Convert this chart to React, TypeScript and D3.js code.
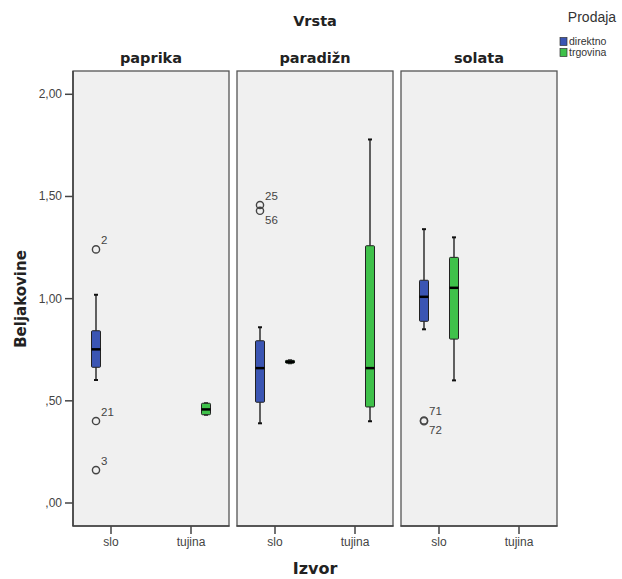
import React from "react";
import * as d3 from "d3";

// ---- data ----
const panels = ["paprika", "paradižn", "solata"];
const sources = ["slo", "tujina"];
const saleTypes = ["direktno", "trgovina"];
const yTicks = [0, 0.5, 1.0, 1.5, 2.0];
const yTickLabels = [",00", ",50", "1,00", "1,50", "2,00"];

// boxes
const boxPanel = ["paprika", "paprika", "paradižn", "paradižn", "paradižn", "solata", "solata"];
const boxSource = ["slo", "tujina", "slo", "slo", "tujina", "slo", "slo"];
const boxSale = ["direktno", "trgovina", "direktno", "trgovina", "trgovina", "direktno", "trgovina"];
const boxMin = [0.602, 0.432, 0.39, 0.684, 0.4, 0.85, 0.6];
const boxQ1 = [0.664, 0.432, 0.493, 0.684, 0.47, 0.889, 0.802];
const boxMed = [0.752, 0.458, 0.66, 0.691, 0.66, 1.009, 1.053];
const boxQ3 = [0.843, 0.488, 0.794, 0.698, 1.259, 1.09, 1.202];
const boxMax = [1.019, 0.488, 0.86, 0.698, 1.779, 1.34, 1.3];

// outliers
const outPanel = ["paprika", "paprika", "paprika", "paradižn", "paradižn", "solata", "solata"];
const outSource = ["slo", "slo", "slo", "slo", "slo", "slo", "slo"];
const outSale = ["direktno", "direktno", "direktno", "direktno", "direktno", "direktno", "direktno"];
const outValue = [1.241, 0.401, 0.161, 1.458, 1.43, 0.404, 0.4];
const outLabel = ["2", "21", "3", "25", "56", "71", "72"];
const outLabelBelow = [false, false, false, false, true, false, true];

const saleColors = ["#3b55b3", "#3fc14a"];

export default function App() {
  const W = 622;
  const H = 579;
  const panelTop = 71;
  const panelBottom = 526;

  const xPanel = d3.scaleBand<string>().domain(panels).range([73, 557]).paddingInner(8 / 164).paddingOuter(0);
  const bw = xPanel.bandwidth();
  const xSource = d3.scalePoint<string>().domain(sources).range([38, bw - 38]);
  const xSale = d3.scalePoint<string>().domain(saleTypes).range([-15, 15]);
  const color = d3.scaleOrdinal<string, string>().domain(saleTypes).range(saleColors);
  const y = d3.scaleLinear().domain([0, 2]).range([503, 94.3]);

  const boxW = 9;
  const capW = 4;
  const cx = (p: string, s: string, t: string) => (xPanel(p) as number) + (xSource(s) as number) + (xSale(t) as number);

  const boldFont = "'DejaVu Sans', Verdana, sans-serif";
  const font = "'Liberation Sans', Arial, sans-serif";

  return (
    <svg width={W} height={H} style={{ position: "absolute", left: 0, top: 0, background: "#fff" }}>
      {/* titles */}
      <text x={315} y={26} textAnchor="middle" fontFamily={boldFont} fontWeight="bold" fontSize={14.5} fill="#222">Vrsta</text>
      <text x={315} y={574} textAnchor="middle" fontFamily={boldFont} fontWeight="bold" fontSize={16} fill="#222">Izvor</text>
      <text transform="translate(26,299) rotate(-90)" textAnchor="middle" fontFamily={boldFont} fontWeight="bold" fontSize={15} fill="#222">Beljakovine</text>

      {/* legend */}
      <text x={592} y={22} textAnchor="middle" fontFamily={font} fontSize={14} fill="#333">Prodaja</text>
      {saleTypes.map((t, i) => (
        <g key={t}>
          <rect x={560} y={37.5 + i * 11} width={7} height={8} fill={color(t)} stroke="#333" strokeWidth={0.7} />
          <text x={569} y={45.3 + i * 11} fontFamily="'Liberation Sans Narrow', 'Liberation Sans', Arial, sans-serif" fontSize={10.5} fill="#333">{t}</text>
        </g>
      ))}

      {/* y axis */}
      {yTicks.map((v, i) => (
        <g key={v}>
          <line x1={65} x2={73} y1={y(v)} y2={y(v)} stroke="#444" strokeWidth={1.5} />
          <text x={62} y={y(v) + 4} textAnchor="end" fontFamily={font} fontSize={12} fill="#444">{yTickLabels[i]}</text>
        </g>
      ))}

      {/* panels */}
      {panels.map((p) => {
        const x0 = xPanel(p) as number;
        return (
          <g key={p}>
            <text x={x0 + bw / 2} y={63} textAnchor="middle" fontFamily={boldFont} fontWeight="bold" fontSize={14.5} fill="#222">{p}</text>
            <rect x={x0} y={panelTop} width={bw} height={panelBottom - panelTop} fill="#f0f0f0" stroke="#555" strokeWidth={1.3} />
            <line x1={x0 - 0.5} x2={x0 + bw + 0.5} y1={panelBottom} y2={panelBottom} stroke="#444" strokeWidth={1.6} />
            {sources.map((s) => (
              <g key={s}>
                <line x1={x0 + (xSource(s) as number)} x2={x0 + (xSource(s) as number)} y1={panelBottom} y2={panelBottom + 8} stroke="#444" strokeWidth={1.5} />
                <text x={x0 + (xSource(s) as number)} y={546} textAnchor="middle" fontFamily={font} fontSize={12} fill="#444">{s}</text>
              </g>
            ))}
          </g>
        );
      })}
      <line x1={73} x2={73} y1={panelTop} y2={panelBottom} stroke="#444" strokeWidth={1.6} />

      {/* boxes */}
      {boxPanel.map((p, i) => {
        const x = cx(p, boxSource[i], boxSale[i]);
        return (
          <g key={i}>
            <line x1={x} x2={x} y1={y(boxMax[i])} y2={y(boxQ3[i])} stroke="#111" strokeWidth={1.3} />
            <line x1={x} x2={x} y1={y(boxQ1[i])} y2={y(boxMin[i])} stroke="#111" strokeWidth={1.3} />
            <line x1={x - capW / 2} x2={x + capW / 2} y1={y(boxMax[i])} y2={y(boxMax[i])} stroke="#111" strokeWidth={2} />
            <line x1={x - capW / 2} x2={x + capW / 2} y1={y(boxMin[i])} y2={y(boxMin[i])} stroke="#111" strokeWidth={2} />
            <rect x={x - boxW / 2} y={y(boxQ3[i])} width={boxW} height={Math.max(1, y(boxQ1[i]) - y(boxQ3[i]))} fill={color(boxSale[i])} stroke="#222" strokeWidth={1} rx={1} />
            <line x1={x - boxW / 2} x2={x + boxW / 2} y1={y(boxMed[i])} y2={y(boxMed[i])} stroke="#000" strokeWidth={2.5} />
          </g>
        );
      })}

      {/* outliers */}
      {outPanel.map((p, i) => {
        const x = cx(p, outSource[i], outSale[i]);
        const yy = y(outValue[i]);
        return (
          <g key={"o" + i}>
            <circle cx={x} cy={yy} r={3.6} fill="none" stroke="#444" strokeWidth={1.4} />
            <text x={x + 5} y={outLabelBelow[i] ? yy + 13 : yy - 5} fontFamily={font} fontSize={11.5} fill="#444">{outLabel[i]}</text>
          </g>
        );
      })}
    </svg>
  );
}
